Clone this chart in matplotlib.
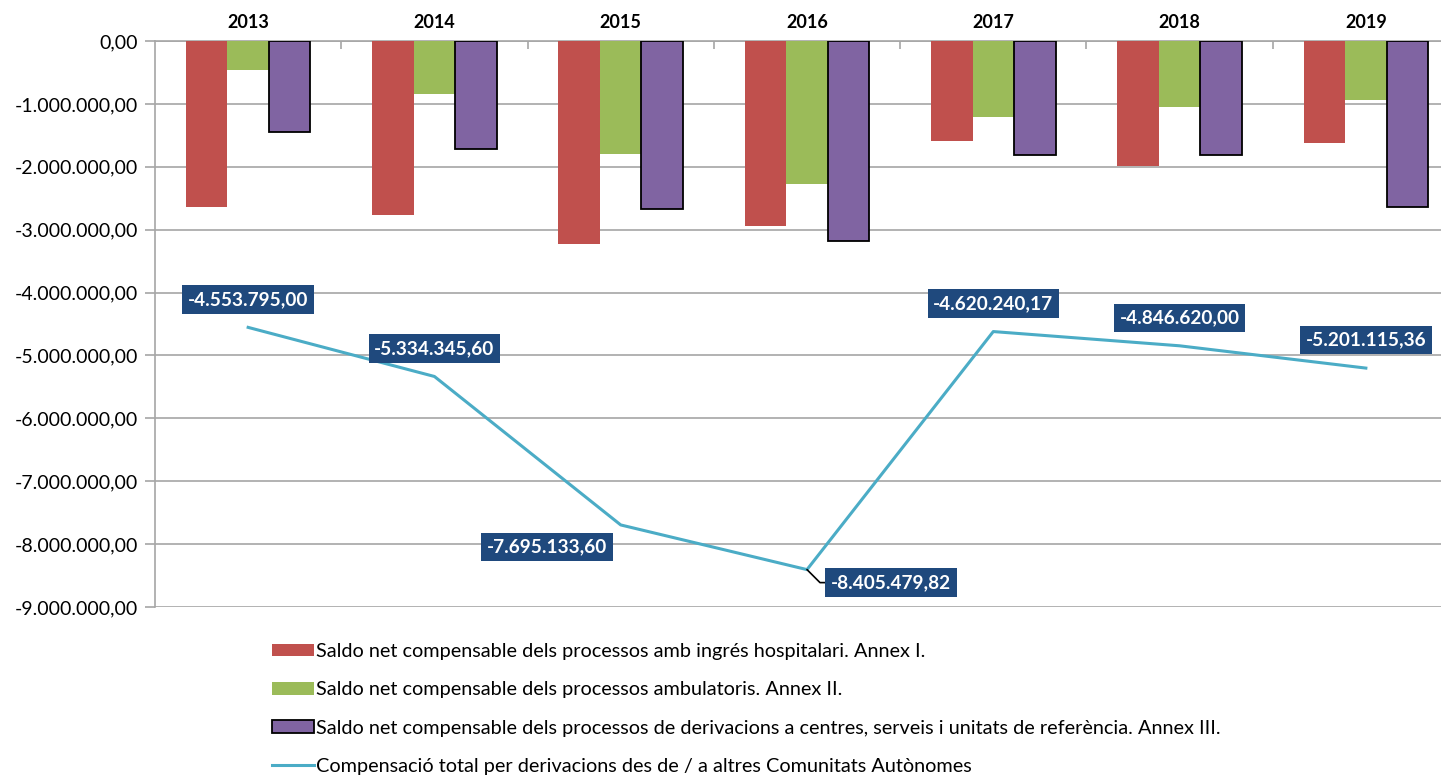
import matplotlib
matplotlib.use("Agg")
import matplotlib.pyplot as plt
from matplotlib.ticker import FuncFormatter, FixedLocator
import numpy as np

plt.rcParams['font.family'] = ['Lato', 'DejaVu Sans']

years = ['2013', '2014', '2015', '2016', '2017', '2018', '2019']
annex1 = [-2640000, -2760000, -3220000, -2940000, -1585000, -1990000, -1625000]
annex2 = [-460000, -840000, -1800000, -2280000, -1215000, -1050000, -940000]
annex3 = [-1440000, -1720000, -2675000, -3185000, -1820000, -1805000, -2635000]
total = [-4553795.00, -5334345.60, -7695133.60, -8405479.82, -4620240.17, -4846620.00, -5201115.36]
total_labels = ['-4.553.795,00', '-5.334.345,60', '-7.695.133,60', '-8.405.479,82',
                '-4.620.240,17', '-4.846.620,00', '-5.201.115,36']

series_names = [
    'Saldo net compensable dels processos amb ingrés hospitalari. Annex I.',
    'Saldo net compensable dels processos ambulatoris. Annex II.',
    'Saldo net compensable dels processos de derivacions a centres, serveis i unitats de referència. Annex III.',
    'Compensació total per derivacions des de / a altres Comunitats Autònomes',
]

W, H = 1441, 777
fig = plt.figure(figsize=(W / 100, H / 100), dpi=100)
ax = fig.add_axes([155 / W, 1 - 607 / H, (1459 - 155) / W, (607 - 41) / H])

x = np.arange(len(years))
bw = 0.223
grid_c = '#A6A6A6'
b1 = ax.bar(x - bw, annex1, bw, color='#C0504D', zorder=3)
b2 = ax.bar(x, annex2, bw, color='#9BBB59', zorder=3)
b3 = ax.bar(x + bw, annex3, bw, color='#8064A2', edgecolor='black', linewidth=1.3, zorder=3)
ln, = ax.plot(x, total, color='#4BACC6', lw=2.2, zorder=4)

ax.set_xlim(-0.5, len(years) - 0.5)
ax.set_ylim(-9000000, 0)
ax.yaxis.set_major_locator(FixedLocator(np.arange(-9000000, 1, 1000000)))

def fmt(v, pos):
    s = f"{abs(v):,.2f}".replace(',', 'X').replace('.', ',').replace('X', '.')
    return ('-' if v < 0 else '') + s

ax.yaxis.set_major_formatter(FuncFormatter(fmt))
ax.grid(axis='y', color=grid_c, lw=1.2, zorder=0)
ax.tick_params(axis='y', length=7, width=1.2, color=grid_c, labelsize=14, pad=5)

ax.xaxis.tick_top()
ax.set_xticks(x)
ax.set_xticklabels(years, fontweight='bold', fontsize=13)
ax.set_xticks(np.arange(0.5, len(years) - 0.5, 1), minor=True)
ax.tick_params(axis='x', which='major', length=0, pad=7)
ax.tick_params(axis='x', which='minor', length=6, width=1.2, color=grid_c, direction='in')

for s in ['right', 'bottom']:
    ax.spines[s].set_visible(False)
for s in ['left', 'top']:
    ax.spines[s].set_color(grid_c)
    ax.spines[s].set_linewidth(1.2)

offsets = [(0, 28), (0, 28), (-74, -22), (84, -13), (0, 28), (0, 28), (0, 28)]
for i, (v, lab) in enumerate(zip(total, total_labels)):
    dx, dy = offsets[i]
    kw = {}
    if i == 3:
        kw['arrowprops'] = dict(arrowstyle='-', color='black', lw=1.2,
                                shrinkA=0, shrinkB=0,
                                connectionstyle='angle,angleA=0,angleB=-45,rad=0')
    ax.annotate(lab, (x[i], v), xytext=(dx, dy), textcoords='offset pixels',
                ha='center', va='center', color='white', fontweight='bold', fontsize=13.7,
                bbox=dict(boxstyle='square,pad=0.3', fc='#1F497D', ec='none'),
                zorder=6, **kw)

leg = fig.legend([b1, b2, b3, ln], series_names, loc='upper left',
                 bbox_to_anchor=(272 / W, 1 - 643 / H), frameon=False,
                 borderpad=0, borderaxespad=0,
                 fontsize=14.3, handlelength=2.1, handleheight=0.6,
                 handletextpad=0.1, labelspacing=1.07)

fig.savefig('out.png', dpi=100)
